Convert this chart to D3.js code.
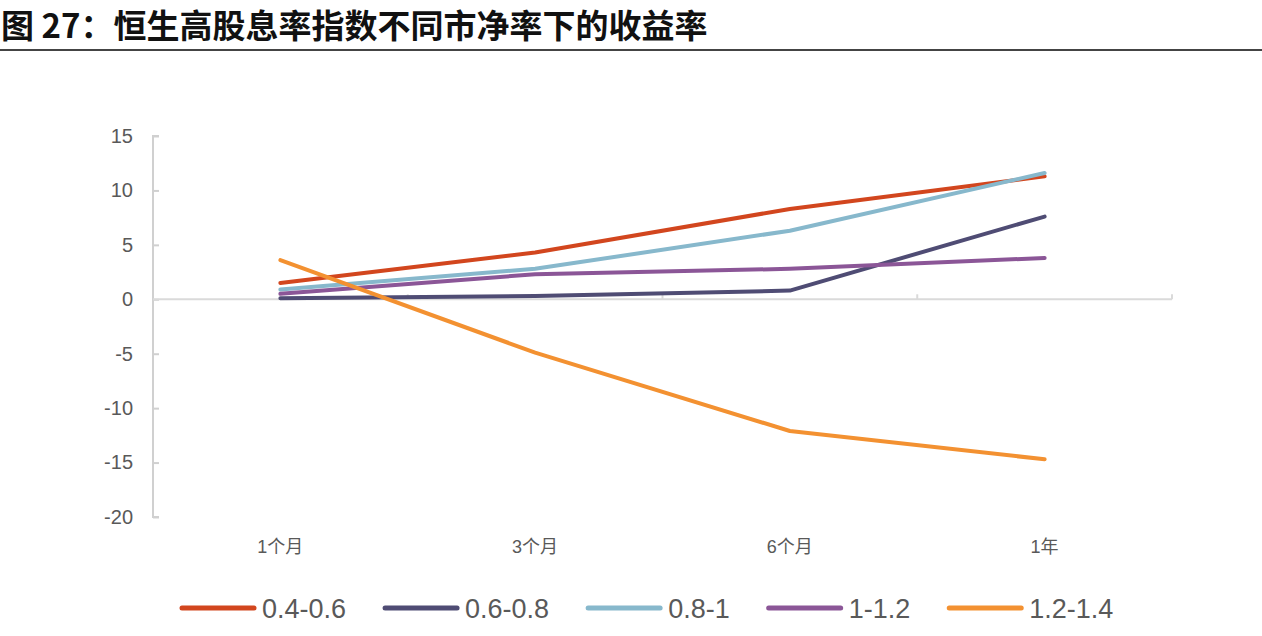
<!DOCTYPE html>
<html><head><meta charset="utf-8">
<script src="https://cdn.jsdelivr.net/npm/d3@7"></script>
<style>
html,body{margin:0;padding:0;background:#fff;}
svg{display:block;}
</style></head>
<body>
<svg id="chart" width="1262" height="636"></svg>
<script>
const title = "图 27：恒生高股息率指数不同市净率下的收益率";
const categories = ["1个月", "3个月", "6个月", "1年"];
const seriesNames = ["0.4-0.6", "0.6-0.8", "0.8-1", "1-1.2", "1.2-1.4"];
const s04_06 = [1.5, 4.3, 8.3, 11.3];
const s06_08 = [0.1, 0.3, 0.8, 7.6];
const s08_1 = [0.9, 2.8, 6.3, 11.6];
const s1_12 = [0.5, 2.3, 2.8, 3.8];
const s12_14 = [3.6, -4.9, -12.1, -14.7];
const yTicks = [15, 10, 5, 0, -5, -10, -15, -20];
const colors = ["#D2461E", "#4F4C74", "#87B8CC", "#8B5697", "#F39131"];

const seriesValues = [s04_06, s06_08, s08_1, s1_12, s12_14];
const series = seriesNames.map((n, i) => ({name: n, values: seriesValues[i], color: colors[i]}));

const svg = d3.select("#chart");
const textColor = "#595959";
const fontFam = "'Liberation Sans', Arial, 'Noto Sans CJK SC', sans-serif";

// Title
svg.append("text").attr("x", 1).attr("y", 38)
  .attr("font-family", "'Noto Sans CJK SC', sans-serif")
  .attr("font-weight", "bold").attr("font-size", 33).attr("fill", "#111")
  .text(title);
svg.append("rect").attr("x", 0).attr("y", 49).attr("width", 1262).attr("height", 2).attr("fill", "#444");

const pLeft = 153, pRight = 1172, pTop = 136, pBottom = 517;
const x = d3.scaleBand().domain(categories).range([pLeft, pRight]);
const y = d3.scaleLinear().domain([-20, 15]).range([pBottom, pTop]);

// Y axis
const yAxis = d3.axisRight(y).tickValues(yTicks).tickSize(6).tickFormat(d => String(d));
const gy = svg.append("g").attr("transform", `translate(${pLeft},0)`).call(yAxis);
gy.select(".domain").attr("stroke", "#D0D0D0").attr("stroke-width", 2).attr("d", `M6,${pTop}H0V${pBottom}H6`);
gy.selectAll(".tick line").attr("stroke", "#D0D0D0").attr("stroke-width", 2);
gy.selectAll(".tick text").attr("x", -20).attr("text-anchor", "end")
  .attr("font-family", fontFam).attr("font-size", 20).attr("fill", textColor);

// X axis at zero line
const y0 = y(0);
const gx = svg.append("g").attr("transform", `translate(0,${y0})`);
gx.append("line").attr("x1", pLeft).attr("x2", pRight).attr("y1", 0).attr("y2", 0)
  .attr("stroke", "#DADADA").attr("stroke-width", 2);
const bounds = categories.map(c => x(c)).concat([pRight]);
gx.selectAll("line.tk").data(bounds.slice(1)).enter().append("line")
  .attr("x1", d => d).attr("x2", d => d).attr("y1", 0).attr("y2", -5)
  .attr("stroke", "#DADADA").attr("stroke-width", 2);

// X labels
svg.append("g").selectAll("text").data(categories).enter().append("text")
  .attr("x", d => x(d) + x.bandwidth() / 2).attr("y", 553)
  .attr("text-anchor", "middle").attr("font-family", fontFam)
  .attr("font-size", 18).attr("fill", textColor).text(d => d);

// Lines
const line = d3.line().x((d, i) => x(categories[i]) + x.bandwidth() / 2).y(d => y(d));
svg.append("g").selectAll("path").data(series).enter().append("path")
  .attr("d", d => line(d.values)).attr("fill", "none")
  .attr("stroke", d => d.color).attr("stroke-width", 4)
  .attr("stroke-linejoin", "round").attr("stroke-linecap", "round");

// Legend
const lg = svg.append("g");
let lx = 182;
series.forEach(s => {
  lg.append("line").attr("x1", lx).attr("x2", lx + 72).attr("y1", 608).attr("y2", 608)
    .attr("stroke", s.color).attr("stroke-width", 5).attr("stroke-linecap", "round");
  const t = lg.append("text").attr("x", lx + 80).attr("y", 618)
    .attr("font-family", fontFam).attr("font-size", 27).attr("fill", textColor).text(s.name);
  lx += 80 + t.node().getComputedTextLength() + 39;
});
</script>
</body></html>
